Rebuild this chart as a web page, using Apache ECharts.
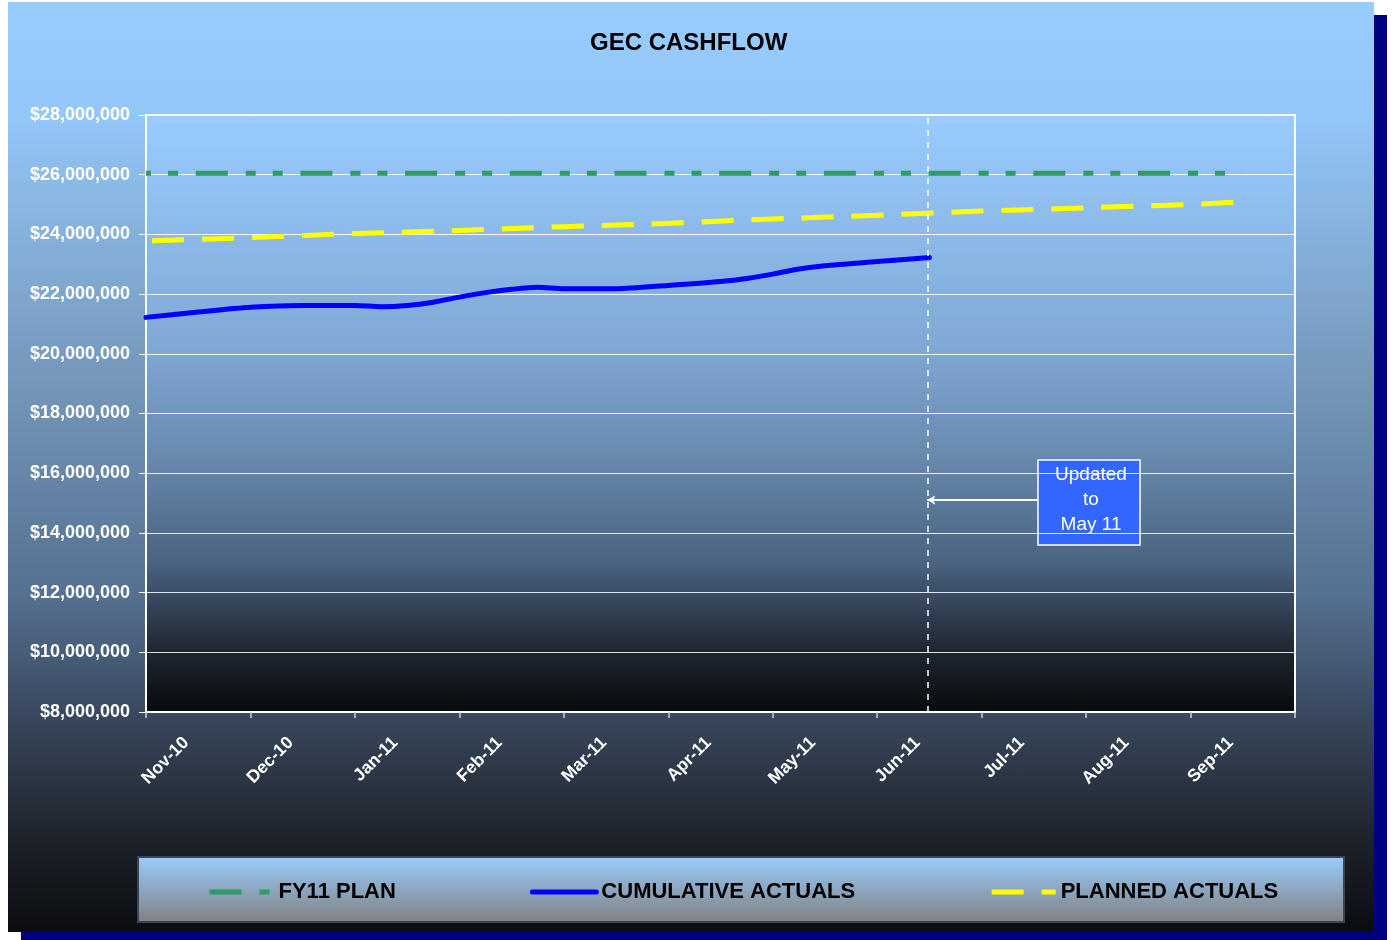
<!DOCTYPE html>
<html>
<head>
<meta charset="utf-8">
<title>GEC CASHFLOW</title>
<script src="https://cdn.jsdelivr.net/npm/echarts@6/dist/echarts.min.js"></script>
<style>
html, body { margin: 0; padding: 0; background: #fff; overflow: hidden; }
#frame {
    position: absolute; left: 8px; top: 2px; width: 1366px; height: 930px;
    background: linear-gradient(to bottom, #99ccff 0%, #94c6f8 12%, #7598bb 40%, #557090 64%, #3a4a60 76%, #1e232b 90%, #0a0c0f 100%);
    box-shadow: 13px 13px 0 #000080;
}
#main { position: absolute; left: 0; top: 0; width: 1395px; height: 940px; }
</style>
</head>
<body>
<div id="frame"></div>
<div id="main"></div>
<script>
// month labels (one per category)
var months = ['Nov-10', 'Dec-10', 'Jan-11', 'Feb-11', 'Mar-11', 'Apr-11', 'May-11', 'Jun-11', 'Jul-11', 'Aug-11', 'Sep-11'];

// positions are in months from the start of Nov-10
var actualPos = [0, 0.5, 1, 1.5, 2, 2.25, 2.5, 2.75, 3, 3.25, 3.5, 3.75, 4, 4.5, 5, 5.5, 5.75, 6, 6.25, 6.5, 7, 7.5];
var actualVals = [21220000, 21400000, 21560000, 21620000, 21620000, 21580000, 21620000, 21730000, 21900000, 22050000, 22160000,
                  22230000, 22180000, 22180000, 22290000, 22420000, 22520000, 22670000, 22840000, 22950000, 23090000, 23230000];

var plannedPos = [0, 1, 2, 3, 4, 5, 6, 7, 8, 9, 10, 10.5];
var plannedVals = [23780000, 23890000, 24030000, 24130000, 24260000, 24370000, 24520000, 24640000, 24780000, 24890000, 25000000, 25090000];

var planPos = [0, 10.5];
var planVals = [26050000, 26050000];

var yMin = 8000000, yMax = 28000000, yStep = 2000000;

// "updated to" marker
var updatedAt = 7.48;
var noteFrom = 8.54;
var noteLevel = 15100000;

function pairs(xs, ys) {
    var out = [];
    for (var i = 0; i < xs.length; i++) out.push([xs[i], ys[i]]);
    return out;
}

var ff = '"Liberation Sans", Arial, Helvetica, sans-serif';

var chart = echarts.init(document.getElementById('main'));
chart.setOption({
    backgroundColor: 'transparent',
    animation: false,
    title: {
        text: 'GEC CASHFLOW',
        left: 590,
        top: 31,
        padding: 0,
        textStyle: { color: '#000', fontSize: 24, fontWeight: 'bold', fontFamily: ff }
    },
    legend: {
        left: 207,
        top: 881,
        padding: 0,
        itemGap: 134,
        itemWidth: 64,
        itemHeight: 14,
        itemStyle: { opacity: 0 },
        lineStyle: { width: 5, dashOffset: 0 },
        textStyle: { color: '#000', fontSize: 22, fontWeight: 'bold', fontFamily: ff },
        data: ['FY11 PLAN', 'CUMULATIVE ACTUALS', 'PLANNED ACTUALS']
    },
    grid: {
        left: 146, right: 100, top: 115, bottom: 228,
        show: true,
        borderColor: '#fff',
        borderWidth: 2,
        backgroundColor: new echarts.graphic.LinearGradient(0, 0, 0, 1, [
            { offset: 0, color: '#99ccff' },
            { offset: 0.39, color: '#80a8d4' },
            { offset: 0.58, color: '#6688ac' },
            { offset: 0.75, color: '#4a6380' },
            { offset: 0.82, color: '#34445a' },
            { offset: 0.9, color: '#1e2630' },
            { offset: 1, color: '#08090c' }
        ])
    },
    xAxis: [
        {
            type: 'category',
            data: months,
            boundaryGap: true,
            axisLine: { show: true, lineStyle: { color: '#fff', width: 2 } },
            axisTick: { show: true, length: 6, lineStyle: { color: '#d0d0d0', width: 1.5 } },
            axisLabel: {
                interval: 0, rotate: 45, margin: 16, padding: [0, 17, 0, 0],
                color: '#fff', fontWeight: 'bold', fontSize: 17.5, fontFamily: ff
            },
            splitLine: { show: false }
        },
        { type: 'value', min: 0, max: 11, show: false }
    ],
    yAxis: {
        type: 'value',
        min: yMin, max: yMax, interval: yStep,
        axisLine: { show: true, lineStyle: { color: '#fff', width: 2 } },
        axisTick: { show: true, length: 7, lineStyle: { color: '#fff' } },
        axisLabel: {
            color: '#fff', fontWeight: 'bold', fontSize: 18, fontFamily: ff, margin: 16,
            formatter: function (v) { return '$' + v.toLocaleString('en-US'); }
        },
        splitLine: { show: true, lineStyle: { color: 'rgba(255,255,255,0.85)', width: 1.2 } }
    },
    series: [
        {
            name: 'FY11 PLAN',
            type: 'line',
            xAxisIndex: 1,
            symbol: 'none',
            data: pairs(planPos, planVals),
            lineStyle: { color: '#339966', width: 5, type: [32, 18, 10, 17, 10, 17.7], dashOffset: 55, cap: 'butt' },
            itemStyle: { color: '#339966' },
            z: 3
        },
        {
            name: 'CUMULATIVE ACTUALS',
            type: 'line',
            xAxisIndex: 1,
            symbol: 'none',
            smooth: 0.25,
            data: pairs(actualPos, actualVals),
            lineStyle: { color: '#0000ff', width: 5, cap: 'round' },
            itemStyle: { color: '#0000ff' },
            z: 4,
            markLine: {
                silent: true,
                symbol: 'none',
                label: { show: false },
                lineStyle: { color: '#fff', width: 1.5, type: [6, 6] },
                data: [{ xAxis: updatedAt }]
            }
        },
        {
            name: 'PLANNED ACTUALS',
            type: 'line',
            xAxisIndex: 1,
            symbol: 'none',
            data: pairs(plannedPos, plannedVals),
            lineStyle: { color: '#ffff00', width: 5, type: [32, 18], dashOffset: 44, cap: 'butt' },
            itemStyle: { color: '#ffff00' },
            z: 3,
            markLine: {
                silent: true,
                symbol: ['none', 'arrow'],
                symbolSize: [7, 8],
                label: { show: false },
                lineStyle: { color: '#fff', width: 1.8, type: 'solid', dashOffset: 0 },
                data: [[{ coord: [noteFrom, noteLevel] }, { coord: [updatedAt, noteLevel] }]]
            }
        }
    ],
    graphic: [
        {
            type: 'rect',
            z: 0,
            shape: { x: 138, y: 857, width: 1206, height: 65 },
            style: {
                fill: new echarts.graphic.LinearGradient(0, 0, 0, 1, [
                    { offset: 0, color: '#99ccff' },
                    { offset: 1, color: '#808080' }
                ]),
                stroke: '#3a4656',
                lineWidth: 2
            }
        },
        {
            type: 'group',
            z: 100,
            children: [
                {
                    type: 'rect',
                    shape: { x: 1038, y: 460, width: 102, height: 85 },
                    style: { fill: '#3366ff', stroke: '#fff', lineWidth: 1.5 }
                },
                {
                    type: 'text',
                    style: {
                        text: 'Updated\nto\nMay 11',
                        x: 1091, y: 500,
                        align: 'center', verticalAlign: 'middle',
                        fill: '#fff', fontSize: 19, fontFamily: ff, lineHeight: 25
                    }
                }
            ]
        }
    ]
});
</script>
</body>
</html>
